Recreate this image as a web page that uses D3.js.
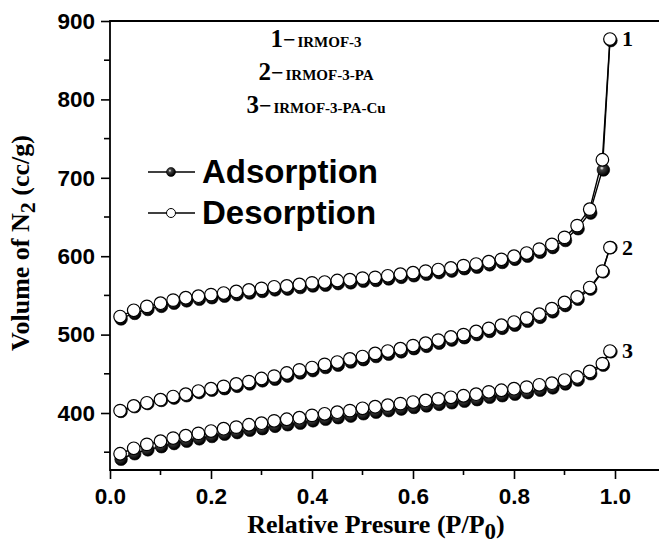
<!DOCTYPE html>
<html>
<head>
<meta charset="utf-8">
<script src="https://cdn.jsdelivr.net/npm/d3@7"></script>
<style>
  html, body { margin: 0; padding: 0; background: #fff; }
  svg { display: block; }
</style>
</head>
<body>
<div id="chart"></div>
<script>
// relative pressure P/P0, shared by every curve
const pressure = [0.02, 0.047, 0.073, 0.100, 0.125, 0.150, 0.175, 0.200, 0.225, 0.250,
                  0.275, 0.300, 0.325, 0.350, 0.375, 0.400, 0.425, 0.450, 0.475, 0.500,
                  0.525, 0.550, 0.575, 0.600, 0.625, 0.650, 0.675, 0.700, 0.725, 0.750,
                  0.775, 0.800, 0.825, 0.850, 0.875, 0.900, 0.925, 0.950, 0.975, 0.990];

// 1 - IRMOF-3
const des1 = [523, 531, 536, 540, 544, 547, 549, 551, 553, 555,
              557, 559, 561, 562, 564, 566, 567, 569, 570, 572,
              573, 575, 577, 579, 581, 583, 585, 588, 590, 593,
              596, 600, 604, 609, 615, 624, 639, 660, 723, 877];
const ads1 = [520, 527, 532, 536, 540, 543, 545, 547, 549, 551,
              553, 555, 557, 558, 560, 562, 563, 565, 566, 568,
              569, 571, 573, 575, 577, 579, 581, 584, 586, 589,
              592, 596, 600, 605, 611, 620, 635, 655, 710, 875];
// 2 - IRMOF-3-PA
const des2 = [403, 409, 413, 417, 421, 424, 428, 431, 434, 437,
              440, 444, 447, 451, 455, 458, 462, 465, 469, 472,
              476, 479, 482, 486, 489, 493, 497, 500, 504, 508,
              512, 516, 521, 526, 533, 541, 548, 560, 581, 611];
const ads2 = [402, 408, 412, 416, 419, 422, 426, 429, 431, 434,
              437, 441, 443, 447, 451, 454, 458, 461, 465, 468,
              472, 475, 478, 482, 485, 489, 493, 496, 500, 504,
              508, 512, 517, 522, 529, 537, 545, 558, 580, 611];
// 3 - IRMOF-3-PA-Cu
const des3 = [348, 355, 360, 364, 368, 371, 374, 377, 380, 382,
              385, 387, 390, 392, 394, 397, 399, 401, 403, 406,
              408, 410, 412, 414, 416, 418, 420, 422, 424, 427,
              429, 431, 433, 436, 438, 442, 446, 453, 463, 479];
const ads3 = [341, 348, 353, 357, 361, 364, 367, 370, 373, 375,
              378, 380, 383, 385, 387, 390, 392, 394, 396, 399,
              401, 403, 405, 407, 409, 411, 413, 415, 417, 420,
              422, 424, 426, 429, 432, 437, 442, 450, 461, 478];

const curveTags = ["1", "2", "3"];
const sampleNames = ["IRMOF-3", "IRMOF-3-PA", "IRMOF-3-PA-Cu"];
const xTicks = [0.0, 0.2, 0.4, 0.6, 0.8, 1.0];
const yTicks = [400, 500, 600, 700, 800, 900];

const W = 659, H = 544;
const x = d3.scaleLinear().domain([0, 1]).range([110, 615]);
const y = d3.scaleLinear().domain([327.3, 900]).range([470, 21]);

const svg = d3.select("#chart").append("svg")
    .attr("width", W).attr("height", H);

// shaded ball for the adsorption points
const grad = svg.append("defs").append("radialGradient")
    .attr("id", "ball").attr("cx", "38%").attr("cy", "35%").attr("r", "60%");
grad.append("stop").attr("offset", "0%").attr("stop-color", "#fff");
grad.append("stop").attr("offset", "28%").attr("stop-color", "#444");
grad.append("stop").attr("offset", "100%").attr("stop-color", "#000");

const tickFont = "'Liberation Sans', Arial, sans-serif";
const serif = "'Liberation Serif', 'Times New Roman', serif";

// axes
const xAxis = d3.axisBottom(x).tickValues(xTicks).tickFormat(d3.format(".1f"))
    .tickSizeInner(9).tickSizeOuter(0);
const gx = svg.append("g").attr("transform", "translate(0,470)").call(xAxis);
gx.select(".domain").remove();
gx.append("g").selectAll("line").data([0.1, 0.3, 0.5, 0.7, 0.9]).join("line")
    .attr("x1", d => x(d)).attr("x2", d => x(d)).attr("y1", 0).attr("y2", 5);

const yAxis = d3.axisLeft(y).tickValues(yTicks).tickSizeInner(9).tickSizeOuter(0);
const gy = svg.append("g").attr("transform", "translate(110,0)").call(yAxis);
gy.select(".domain").remove();
gy.append("g").selectAll("line").data([350, 450, 550, 650, 750, 850]).join("line")
    .attr("x1", -6).attr("x2", 0).attr("y1", d => y(d)).attr("y2", d => y(d));

svg.selectAll(".tick line, g g line").attr("stroke", "#000").attr("stroke-width", 1.6);
gx.selectAll(".tick text").attr("y", 18).attr("dy", "0.71em");
gy.selectAll(".tick text").attr("x", -15);
svg.selectAll(".tick text")
    .attr("font-family", tickFont).attr("font-weight", "bold")
    .attr("font-size", 22.5).attr("fill", "#000");

// frame: left, bottom and top edges (right side runs off the picture)
svg.append("path")
    .attr("d", `M${W},${y(900)}H110V470H${W}`)
    .attr("fill", "none").attr("stroke", "#000").attr("stroke-width", 1.8);

// curves
const series = [
  {tag: curveTags[0], ads: ads1, des: des1},
  {tag: curveTags[1], ads: ads2, des: des2},
  {tag: curveTags[2], ads: ads3, des: des3}
];
const line = d3.line().x(d => x(d[0])).y(d => y(d[1]));
const R = 6.3;

series.forEach(s => {
  const a = pressure.map((p, i) => [p, s.ads[i]]);
  const d = pressure.map((p, i) => [p, s.des[i]]);
  const g = svg.append("g");
  g.append("path").attr("d", line(a)).attr("fill", "none")
      .attr("stroke", "#000").attr("stroke-width", 1.4);
  g.append("path").attr("d", line(d)).attr("fill", "none")
      .attr("stroke", "#000").attr("stroke-width", 1.4);
  g.selectAll(".ads").data(a).join("circle").attr("class", "ads")
      .attr("cx", v => x(v[0]) + 1).attr("cy", v => y(v[1])).attr("r", R)
      .attr("fill", "url(#ball)").attr("stroke", "#000").attr("stroke-width", 0.6);
  g.selectAll(".des").data(d).join("circle").attr("class", "des")
      .attr("cx", v => x(v[0])).attr("cy", v => y(v[1])).attr("r", R)
      .attr("fill", "#fff").attr("stroke", "#000").attr("stroke-width", 1.2);
  const last = d[d.length - 1];
  g.append("text").attr("x", x(last[0]) + 12).attr("y", y(last[1]) + 7)
      .attr("font-family", serif).attr("font-weight", "bold").attr("font-size", 22)
      .text(s.tag);
});

// sample key at the top
const key = svg.append("g");
[47, 80, 113].forEach((yy, i) => {
  const t = key.append("text").attr("x", 316).attr("y", yy).attr("text-anchor", "middle")
      .attr("font-family", serif).attr("font-weight", "bold");
  t.append("tspan").attr("font-size", 25).text(curveTags[i]);
  t.append("tspan").attr("font-size", 22).text("\u2212");
  t.append("tspan").attr("font-size", 15).attr("dx", 2).text(sampleNames[i]);
});

// adsorption / desorption legend
const leg = [{label: "Adsorption", y: 172, filled: true},
             {label: "Desorption", y: 213, filled: false}];
leg.forEach(l => {
  svg.append("line").attr("x1", 148).attr("x2", 195).attr("y1", l.y).attr("y2", l.y)
      .attr("stroke", "#000").attr("stroke-width", 1.4);
  svg.append("circle").attr("cx", 171).attr("cy", l.y).attr("r", 4.5)
      .attr("fill", l.filled ? "url(#ball)" : "#fff")
      .attr("stroke", "#000").attr("stroke-width", l.filled ? 0.6 : 1);
  svg.append("text").attr("x", 202).attr("y", l.y + 11)
      .attr("font-family", tickFont).attr("font-weight", "bold").attr("font-size", 33)
      .text(l.label);
});

// axis titles
const xt = svg.append("text").attr("x", 376).attr("y", 533).attr("text-anchor", "middle")
    .attr("font-family", serif).attr("font-weight", "bold").attr("font-size", 26);
xt.append("tspan").text("Relative Presure (P/P");
xt.append("tspan").attr("font-size", 23).attr("dy", 6).text("0");
xt.append("tspan").attr("dy", -6).text(")");

const yt = svg.append("text").attr("transform", "translate(29,243) rotate(-90)")
    .attr("text-anchor", "middle")
    .attr("font-family", serif).attr("font-weight", "bold").attr("font-size", 26);
yt.append("tspan").text("Volume of N");
yt.append("tspan").attr("font-size", 22).attr("dy", 6).text("2");
yt.append("tspan").attr("dy", -6).text(" (cc/g)");
</script>
</body>
</html>
